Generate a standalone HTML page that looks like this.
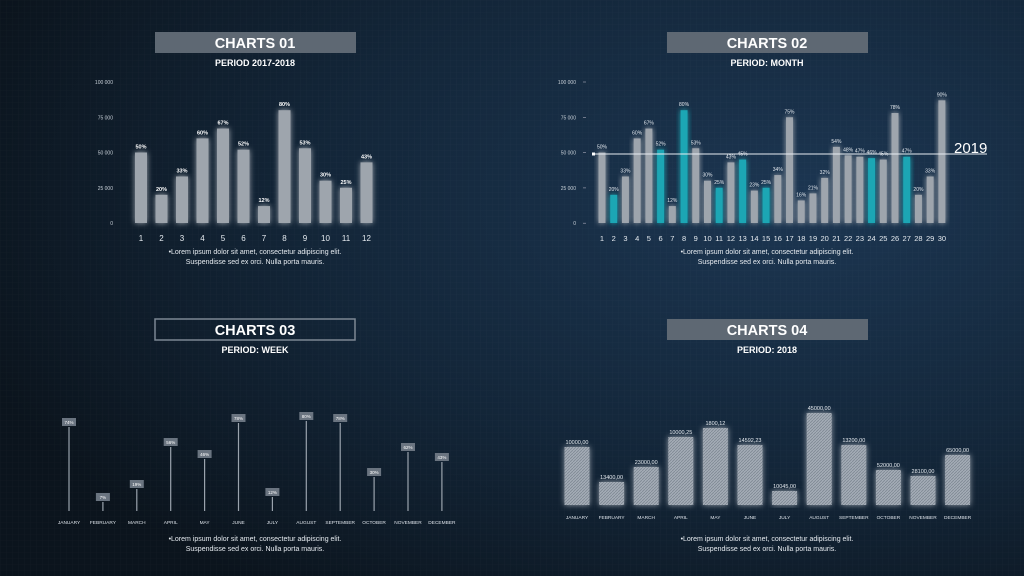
<!DOCTYPE html>
<html><head><meta charset="utf-8"><style>
html,body{margin:0;padding:0;width:1024px;height:576px;overflow:hidden;background:#0f1b28}
svg{display:block;font-family:"Liberation Sans",sans-serif}
</style></head><body>
<svg width="1024" height="576" viewBox="0 0 1024 576" xmlns="http://www.w3.org/2000/svg">
<defs>
<radialGradient id="bg" cx="0.78" cy="0.35" r="0.85">
<stop offset="0" stop-color="#1c3652"/><stop offset="0.55" stop-color="#132639"/><stop offset="1" stop-color="#0b141d"/>
</radialGradient>
<pattern id="grid" width="6" height="6" patternUnits="userSpaceOnUse"><path d="M6 0H0V6" fill="none" stroke="#ffffff" stroke-opacity="0.04" stroke-width="0.6"/></pattern>
<pattern id="hatch" width="3" height="3" patternUnits="userSpaceOnUse"><rect width="3" height="3" fill="#a4acb6"/><path d="M0 3L3 0" stroke="#7e8893" stroke-width="0.8"/></pattern>
<filter id="glow" x="-60%" y="-20%" width="220%" height="140%"><feGaussianBlur in="SourceGraphic" stdDeviation="3" result="b"/><feMerge><feMergeNode in="b"/><feMergeNode in="SourceGraphic"/></feMerge></filter>
</defs>
<rect width="1024" height="576" fill="url(#bg)"/>
<rect width="1024" height="576" fill="url(#grid)"/>
<g id="content"></g>
</svg>
<script>
const g=document.getElementById('content');const NS='http://www.w3.org/2000/svg';
function el(t,a,txt){const e=document.createElementNS(NS,t);for(const k in a)e.setAttribute(k,a[k]);if(txt!==undefined)e.textContent=txt;g.appendChild(e);return e;}
function title(cx,y,t,sub,outline){
 if(outline)el('rect',{x:cx-100,y:y,width:200,height:21,fill:'none',stroke:'#7c8793','stroke-width':1.5});
 else el('rect',{x:cx-100,y:y,width:201,height:21,fill:'#5e6873'});
 el('text',{x:cx,y:y+16,'text-anchor':'middle','font-size':14.5,'font-weight':'bold',fill:'#fff'},t);
 el('text',{x:cx,y:y+34,'text-anchor':'middle','font-size':9,'font-weight':'bold',fill:'#fff'},sub);
}
function note(cx,y){
 el('text',{x:cx,y:y,'text-anchor':'middle','font-size':7,fill:'#e6ebf0'},'•Lorem ipsum dolor sit amet, consectetur adipiscing elit.');
 el('text',{x:cx,y:y+10,'text-anchor':'middle','font-size':7,fill:'#e6ebf0'},'Suspendisse sed ex orci. Nulla porta mauris.');
}
title(255,32,'CHARTS 01','PERIOD 2017-2018');
title(767,32,'CHARTS 02','PERIOD: MONTH');
title(255,319,'CHARTS 03','PERIOD: WEEK',true);
title(767,319,'CHARTS 04','PERIOD: 2018');
function yaxis(x){const l=['100 000','75 000','50 000','25 000','0'];l.forEach((s,i)=>el('text',{x:x,y:84+i*35.3,'text-anchor':'end','font-size':5,fill:'#c8d0d8'},s));}
yaxis(113);yaxis(576);
for(let i=0;i<5;i++)el('line',{x1:583,x2:586,y1:82+i*35.3,y2:82+i*35.3,stroke:'#aab',"stroke-width":0.6});
const v1=[50,20,33,60,67,52,12,80,53,30,25,43];
v1.forEach((v,i)=>{const cx=141+i*20.5,top=223-v*1.41;
 el('rect',{x:cx-6,y:top,width:12,height:223-top,fill:'#9ea5ad',filter:'url(#glow)'});
 el('text',{x:cx,y:top-4,'text-anchor':'middle','font-size':5.5,'font-weight':'bold',fill:'#fff'},v+'%');
 el('text',{x:cx,y:241,'text-anchor':'middle','font-size':8,fill:'#e6ebf0'},i+1);});
note(255,254);
const v2=[50,20,33,60,67,52,12,80,53,30,25,43,45,23,25,34,75,16,21,32,54,48,47,46,45,78,47,20,33,90];
const cy=[2,6,8,11,13,15,24,27];
v2.forEach((v,i)=>{const cx=602+i*11.72,top=223-Math.min(v,87)*1.41;const c=cy.includes(i+1);
 el('rect',{x:cx-3.5,y:top,width:7,height:223-top,fill:c?'#1fa6b4':'#9ea5ad',filter:'url(#glow)'});
 el('text',{x:cx,y:top-4,'text-anchor':'middle','font-size':5,fill:'#e6ebf0'},v+'%');
 el('text',{x:cx,y:241,'text-anchor':'middle','font-size':7.5,fill:'#e6ebf0'},i+1);});
el('line',{x1:593,x2:987,y1:154,y2:154,stroke:'#e8edf2','stroke-width':1});
el('rect',{x:592,y:152.5,width:3,height:3,fill:'#fff'});
el('text',{x:954,y:153,'font-size':15,fill:'#fff'},'2019');
note(767,254);
const months=['JANUARY','FEBRUARY','MARCH','APRIL','MAY','JUNE','JULY','AUGUST','SEPTEMBER','OCTOBER','NOVEMBER','DECEMBER'];
const t3=[427,502,489,447,459,423,497,421,423,477,452,462];
const p3=['74%','7%','19%','56%','46%','78%','12%','80%','78%','30%','62%','43%'];
t3.forEach((t,i)=>{const cx=69+i*33.9;
 el('line',{x1:cx,x2:cx,y1:t,y2:511,stroke:'#9aa3ad','stroke-width':1.2});
 el('rect',{x:cx-7,y:t-9,width:14,height:8,fill:'#6a7480'});
 el('text',{x:cx,y:t-3,'text-anchor':'middle','font-size':4.5,fill:'#fff'},p3[i]);
 el('text',{x:cx,y:524,'text-anchor':'middle','font-size':4.8,fill:'#dde3ea'},months[i]);});
note(255,541);
const t4=[447,482,467,437,428,445,491,413,445,470,476,455];
const l4=['10000,00','13400,00','23000,00','10000,25','1800,12','14592,23','10045,00','45000,00','13200,00','52000,00','28100,00','65000,00'];
t4.forEach((t,i)=>{const cx=577+i*34.6;
 el('rect',{x:cx-12.5,y:t,width:25,height:505-t,fill:'url(#hatch)',filter:'url(#glow)'});
 el('text',{x:cx,y:t-3,'text-anchor':'middle','font-size':5.5,fill:'#e6ebf0'},l4[i]);
 el('text',{x:cx,y:519,'text-anchor':'middle','font-size':4.8,fill:'#dde3ea'},months[i]);});
note(767,541);
</script>
</body></html>
